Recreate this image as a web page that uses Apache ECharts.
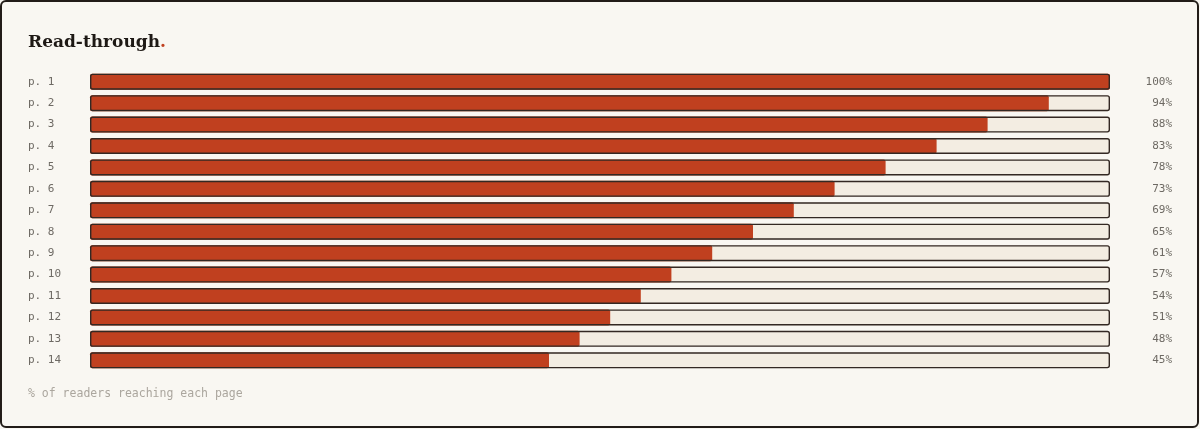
<!DOCTYPE html>
<html>
<head>
<meta charset="utf-8">
<script src="https://cdn.jsdelivr.net/npm/echarts@6/dist/echarts.min.js"></script>
<style>
  html, body { margin: 0; padding: 0; background: #f9f7f2; }
  #main { width: 1200px; height: 429px; }
</style>
</head>
<body>
<div id="main"></div>
<script>
var pages = ['p. 1','p. 2','p. 3','p. 4','p. 5','p. 6','p. 7','p. 8','p. 9','p. 10','p. 11','p. 12','p. 13','p. 14'];
var readPct = [100, 94, 88, 83, 78, 73, 69, 65, 61, 57, 54, 51, 48, 45];
var fullPct = pages.map(function () { return 100; });
var pctLabels = readPct.map(function (v) { return v + '%'; });

var mono = '"DejaVu Sans Mono", monospace';
var chart = echarts.init(document.getElementById('main'));
var option = {
    backgroundColor: '#f9f7f2',
    animation: false,
    title: [
        {text: '{a|Read-through}{b|.}', left: 28, top: 34, padding: 0,
         textStyle: {rich: {
             a: {fontFamily: '"DejaVu Serif", serif', fontWeight: 'bold', fontSize: 17, color: '#1e1915'},
             b: {fontFamily: '"DejaVu Serif", serif', fontWeight: 'bold', fontSize: 17, color: '#c0401f'}
         }}},
        {text: '% of readers reaching each page', left: 28, top: 388, padding: 0,
         textStyle: {fontFamily: mono, fontWeight: 'normal', fontSize: 11.5, color: '#aba69e'}}
    ],
    // outer frame
    graphic: [{type: 'rect', shape: {x: 1, y: 1, width: 1197, height: 426, r: 5},
               style: {fill: 'none', stroke: '#221c18', lineWidth: 2}, silent: true}],
    grid: {left: 90, right: 90, top: 71, bottom: 58},
    xAxis: {type: 'value', min: 0, max: 100, show: false},
    yAxis: [
        {type: 'category', data: pages, inverse: true,
         axisLine: {show: false}, axisTick: {show: false},
         axisLabel: {align: 'left', margin: 62, fontFamily: mono, fontSize: 11, color: '#6e6a64'}},
        {type: 'category', data: pctLabels, inverse: true, position: 'right',
         axisLine: {show: false}, axisTick: {show: false},
         axisLabel: {align: 'right', margin: 62, fontFamily: mono, fontSize: 11, color: '#6e6a64'}}
    ],
    series: [
        {name: 'track', type: 'bar', data: fullPct, barWidth: 16, barGap: '-100%', silent: true,
         itemStyle: {color: '#f3ede2', borderRadius: 2}},
        {name: 'read', type: 'bar', data: readPct, barWidth: 16, barGap: '-100%',
         itemStyle: {color: '#c0401f', borderRadius: 2}},
        {name: 'outline', type: 'bar', data: fullPct, barWidth: 16, barGap: '-100%', silent: true,
         itemStyle: {color: 'rgba(0,0,0,0)', borderColor: '#332823', borderWidth: 1.4, borderRadius: 2}}
    ]
};
chart.setOption(option);
</script>
</body>
</html>
